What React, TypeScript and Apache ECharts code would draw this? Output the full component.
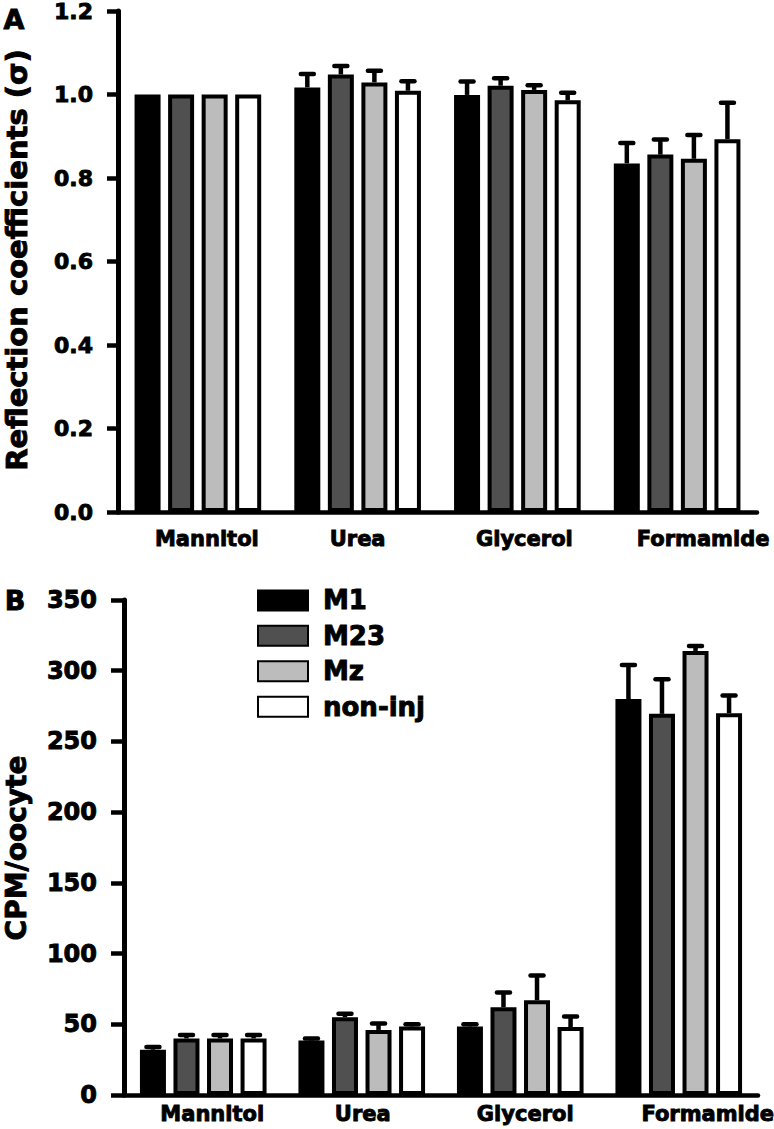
import React, { useEffect, useRef } from "react";
import * as echarts from "echarts";

// ---------- data ----------
const categories = ["Mannitol", "Urea", "Glycerol", "Formamide"];
const seriesNames = ["M1", "M23", "Mz", "non-inj"];
const seriesColors = ["#000000", "#505050", "#bcbcbc", "#ffffff"];

// Panel A: reflection coefficients (sigma)
const sigmaM1 = [1.0, 1.017, 0.999, 0.835];
const sigmaM23 = [1.0, 1.048, 1.021, 0.856];
const sigmaMz = [1.0, 1.029, 1.011, 0.846];
const sigmaNonInj = [1.0, 1.009, 0.986, 0.893];
const sigmaErrM1 = [0, 0.032, 0.032, 0.049];
const sigmaErrM23 = [0, 0.02, 0.018, 0.036];
const sigmaErrMz = [0, 0.028, 0.011, 0.057];
const sigmaErrNonInj = [0, 0.023, 0.018, 0.087];
const sigmaTicks = { min: 0, max: 1.2, interval: 0.2 };

// Panel B: CPM/oocyte
const cpmM1 = [32, 38.5, 48.5, 280];
const cpmM23 = [40, 55, 62, 269.5];
const cpmMz = [40, 46, 67, 314];
const cpmNonInj = [40, 48.5, 48, 270];
const cpmErrM1 = [2, 1.5, 1.5, 24];
const cpmErrM23 = [2.5, 2.5, 10.5, 24.5];
const cpmErrMz = [2.5, 4.5, 17.5, 3.5];
const cpmErrNonInj = [2.5, 1.5, 7.5, 12.5];
const cpmTicks = { min: 0, max: 350, interval: 50 };

// label horizontal nudges (px) as in the original figure
const labelShiftA = [9, 0, 7, 26];
const labelShiftB = [9, 1, 5, 29];

const FONT = "DejaVu Sans";
const BAR_W = 26;
const BAR_GAP = 0.29;
const STEP = BAR_W * (1 + BAR_GAP);
const HEAVY = { textBorderColor: "#000", textBorderWidth: 0.9 };

export default function App() {
  const ref = useRef<HTMLDivElement>(null);

  useEffect(() => {
    if (!ref.current) return;
    const chart = echarts.init(ref.current, null, { renderer: "svg" });

    const valsA = [sigmaM1, sigmaM23, sigmaMz, sigmaNonInj];
    const errsA = [sigmaErrM1, sigmaErrM23, sigmaErrMz, sigmaErrNonInj];
    const valsB = [cpmM1, cpmM23, cpmMz, cpmNonInj];
    const errsB = [cpmErrM1, cpmErrM23, cpmErrMz, cpmErrNonInj];

    const errData = (vals: number[][], errs: number[][]) => {
      const out: number[][] = [];
      vals.forEach((arr, s) =>
        arr.forEach((v, c) => {
          if (errs[s][c] > 0) out.push([c, v, errs[s][c], s]);
        })
      );
      return out;
    };

    const renderErr = (params: any, api: any) => {
      const c = api.value(0);
      const v = api.value(1);
      const e = api.value(2);
      const s = api.value(3);
      const base = api.coord([c, v]);
      const top = api.coord([c, v + e]);
      const x = base[0] + (s - 1.5) * STEP;
      return {
        type: "group",
        children: [
          {
            type: "line",
            shape: { x1: x, y1: base[1], x2: x, y2: top[1] },
            style: { stroke: "#000", lineWidth: 4.5 },
          },
          {
            type: "line",
            shape: { x1: x - 6.5, y1: top[1], x2: x + 6.5, y2: top[1] },
            style: { stroke: "#000", lineWidth: 4.5, lineCap: "round" },
          },
        ],
      };
    };

    const richFor = (shifts: number[]) => {
      const r: any = {};
      shifts.forEach((sh, i) => {
        r["s" + i] = {
          fontFamily: FONT,
          fontWeight: "bold",
          fontSize: 21,
          color: "#000",
          padding: [0, 0, 0, sh * 2],
          ...HEAVY,
        };
      });
      return r;
    };

    const xAxisCommon = (gridIndex: number, margin: number, shifts: number[]) => ({
      type: "category",
      gridIndex,
      data: categories,
      axisLine: { show: true, lineStyle: { color: "#000", width: 4.5 } },
      axisTick: { show: false },
      axisLabel: {
        interval: 0,
        margin,
        hideOverlap: false,
        formatter: (val: string, idx: number) => `{s${idx}|${val}}`,
        rich: richFor(shifts),
      },
      splitLine: { show: false },
    });

    const yAxisCommon = (
      gridIndex: number,
      ticks: { min: number; max: number; interval: number },
      fontSize: number,
      margin: number,
      tickLen: number,
      fmt: (v: number) => string
    ) => ({
      type: "value",
      gridIndex,
      min: ticks.min,
      max: ticks.max,
      interval: ticks.interval,
      axisLine: { show: true, lineStyle: { color: "#000", width: 5 } },
      axisTick: { show: true, inside: false, length: tickLen, lineStyle: { color: "#000", width: 4.5 } },
      axisLabel: {
        margin,
        fontFamily: FONT,
        fontWeight: "bold",
        fontSize,
        color: "#000",
        formatter: fmt,
        ...HEAVY,
      },
      splitLine: { show: false },
    });

    const barSeries = (axisIndex: number, vals: number[][]) =>
      vals.map((arr, i) => ({
        type: "bar",
        name: seriesNames[i],
        xAxisIndex: axisIndex,
        yAxisIndex: axisIndex,
        data: arr,
        barWidth: BAR_W,
        barGap: BAR_GAP * 100 + "%",
        itemStyle: { color: seriesColors[i], borderColor: "#000", borderWidth: 4 },
        emphasis: { disabled: true },
        z: 2,
      }));

    const titleStyle = (text: string, size: number) => ({
      text,
      fontFamily: FONT,
      fontWeight: "bold",
      fontSize: size,
      fill: "#000",
      align: "center",
      verticalAlign: "middle",
      stroke: "#000",
      lineWidth: 0.9,
    });

    const option: any = {
      animation: false,
      backgroundColor: "#ffffff",
      textStyle: { fontFamily: FONT },
      grid: [
        { left: 118, right: 17, top: 11, bottom: 617, outerBoundsMode: "none", containLabel: false },
        { left: 124, right: 16, top: 600, bottom: 34, outerBoundsMode: "none", containLabel: false },
      ],
      xAxis: [xAxisCommon(0, 16, labelShiftA), xAxisCommon(1, 8.5, labelShiftB)],
      yAxis: [
        yAxisCommon(0, sigmaTicks, 22, 25, 11, (v: number) => v.toFixed(1)),
        yAxisCommon(1, cpmTicks, 24, 27, 13, (v: number) => String(v)),
      ],
      legend: {
        orient: "vertical",
        left: 257,
        top: 587,
        padding: 0,
        itemGap: 8.5,
        itemWidth: 50,
        itemHeight: 20,
        icon: "rect",
        selectedMode: false,
        data: seriesNames,
        textStyle: {
          fontFamily: FONT,
          fontWeight: "bold",
          fontSize: 26,
          color: "#000",
          padding: [0, 0, 0, 10],
          ...HEAVY,
        },
      },
      series: [
        ...barSeries(0, valsA),
        ...barSeries(1, valsB),
        {
          type: "custom",
          xAxisIndex: 0,
          yAxisIndex: 0,
          data: errData(valsA, errsA),
          encode: { x: 0, y: 1 },
          renderItem: renderErr,
          z: 3,
          silent: true,
        },
        {
          type: "custom",
          xAxisIndex: 1,
          yAxisIndex: 1,
          data: errData(valsB, errsB),
          encode: { x: 0, y: 1 },
          renderItem: renderErr,
          z: 3,
          silent: true,
        },
      ],
      graphic: [
        { type: "text", x: 14, y: 19, style: titleStyle("A", 27) },
        { type: "text", x: 15, y: 600, style: titleStyle("B", 27) },
        {
          type: "text",
          x: 16.5,
          y: 260,
          rotation: Math.PI / 2,
          style: titleStyle("Reflection coefficients (σ)", 29),
        },
        {
          type: "text",
          x: 16,
          y: 848,
          rotation: Math.PI / 2,
          style: titleStyle("CPM/oocyte", 28),
        },
      ],
    };

    chart.setOption(option);
    return () => chart.dispose();
  }, []);

  return (
    <div
      ref={ref}
      style={{ position: "absolute", left: 0, top: 0, width: 774, height: 1129, background: "#fff" }}
    />
  );
}
